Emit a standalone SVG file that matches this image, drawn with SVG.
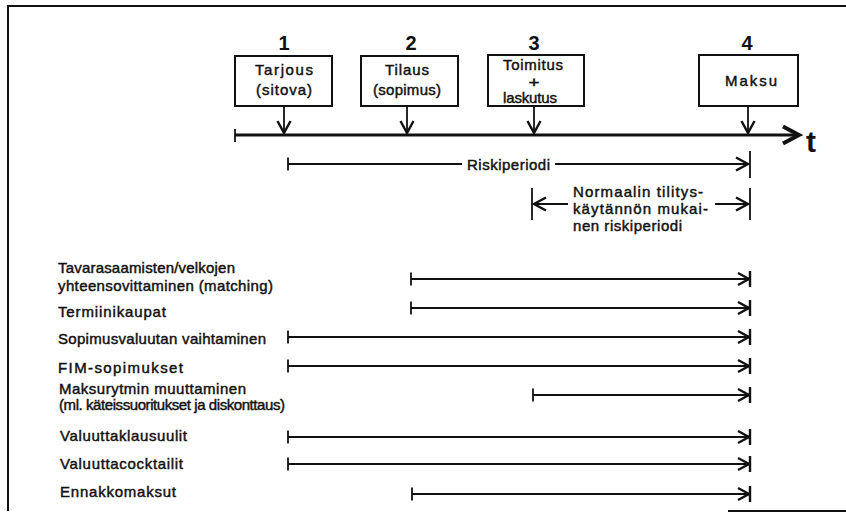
<svg xmlns="http://www.w3.org/2000/svg" width="846" height="527" viewBox="0 0 846 527">
  <style>
    text { font-family: "Liberation Sans", Arial, Helvetica, sans-serif; fill: #111; }
    .lbl { font-size: 15px; stroke: #111; stroke-width: 0.45; }
    .box-t { font-size: 15px; stroke: #111; stroke-width: 0.45; text-anchor: middle; }
    .num { font-size: 20px; font-weight: bold; text-anchor: middle; }
    .ln { stroke: #111; stroke-width: 1.8; fill: none; }
    .box { fill: #fff; stroke: #111; stroke-width: 2; }
    .frame { stroke: #111; stroke-width: 2; fill: none; }
  </style>
  <defs>
    <!-- open chevron with a closing bar at the end of a period -->
    <marker id="endBar" markerUnits="userSpaceOnUse" markerWidth="20" markerHeight="20" orient="auto" overflow="visible">
      <path d="M-11,-6 L0,0 L-11,6 M1,-8 L1,8" stroke="#111" stroke-width="2.4" fill="none"/>
    </marker>
    <!-- open chevron only -->
    <marker id="chev" markerUnits="userSpaceOnUse" markerWidth="20" markerHeight="20" orient="auto" overflow="visible">
      <path d="M-12,-6.5 L0,0 L-12,6.5" stroke="#111" stroke-width="2.4" fill="none"/>
    </marker>
    <!-- small tick at the start of a period -->
    <marker id="startTick" markerUnits="userSpaceOnUse" markerWidth="10" markerHeight="20" orient="auto" overflow="visible">
      <path d="M0,-6.5 L0,6.5" stroke="#111" stroke-width="1.8" fill="none"/>
    </marker>
  </defs>

  <rect width="846" height="527" fill="#fff"/>

  <!-- outer frame (open at the right) -->
  <path class="frame" d="M846,6 L8,6 L8,511"/>
  <path class="frame" d="M728,511 L846,511"/>

  <!-- time axis -->
  <g id="time-axis">
    <line x1="235" y1="135" x2="797" y2="135" stroke="#111" stroke-width="3"/>
    <line x1="235" y1="129" x2="235" y2="142" stroke="#111" stroke-width="1.8"/>
    <path d="M783,126.5 L799,135 L783,143.5" stroke="#111" stroke-width="4" fill="none"/>
    <text x="806" y="152" font-size="30" font-weight="bold">t</text>
  </g>

  <!-- events -->
  <g id="event-1">
    <text class="num" x="284" y="50">1</text>
    <rect class="box" x="235" y="56" width="97" height="50"/>
    <text class="box-t" x="284" y="75" textLength="58">Tarjous</text>
    <text class="box-t" x="284" y="95" textLength="56">(sitova)</text>
  </g>
  <g id="event-2">
    <text class="num" x="411" y="50">2</text>
    <rect class="box" x="361" y="56" width="97" height="50"/>
    <text class="box-t" x="407" y="75" textLength="44">Tilaus</text>
    <text class="box-t" x="407" y="95" textLength="68">(sopimus)</text>
  </g>
  <g id="event-3">
    <text class="num" x="534" y="50">3</text>
    <rect class="box" x="488" y="55" width="96" height="51"/>
    <text class="box-t" x="533" y="70" textLength="60">Toimitus</text>
    <text class="box-t" x="534" y="86.5" font-size="12" stroke-width="0.3" textLength="11" lengthAdjust="spacingAndGlyphs">+</text>
    <text class="box-t" x="530" y="103" textLength="54">laskutus</text>
  </g>
  <g id="event-4">
    <text class="num" x="747" y="50">4</text>
    <rect class="box" x="699" y="55" width="99" height="51"/>
    <text class="box-t" x="751" y="86" textLength="52">Maksu</text>
  </g>

  <!-- connectors: event arrows and periods -->
  <g id="connectors" class="ln">
    <line x1="284" y1="106" x2="284" y2="133" marker-end="url(#chev)"/>
    <line x1="407" y1="106" x2="407" y2="133" marker-end="url(#chev)"/>
    <line x1="534" y1="106" x2="534" y2="133" marker-end="url(#chev)"/>
    <line x1="748" y1="106" x2="748" y2="133" marker-end="url(#chev)"/>

    <!-- Riskiperiodi -->
    <line x1="288" y1="164" x2="462" y2="164" marker-start="url(#startTick)"/>
    <line x1="555" y1="164" x2="748" y2="164" marker-end="url(#chev)"/>
    <line x1="750" y1="151" x2="750" y2="178"/>

    <!-- normal settlement period -->
    <line x1="532" y1="188" x2="532" y2="220"/>
    <line x1="568" y1="204" x2="534" y2="204" marker-end="url(#chev)"/>
    <line x1="715" y1="204" x2="748" y2="204" marker-end="url(#chev)"/>
    <line x1="750" y1="188" x2="750" y2="220"/>

    <!-- hedging methods -->
    <line x1="411" y1="279" x2="749" y2="279" marker-start="url(#startTick)" marker-end="url(#endBar)"/>
    <line x1="411" y1="308" x2="749" y2="308" marker-start="url(#startTick)" marker-end="url(#endBar)"/>
    <line x1="288" y1="337" x2="749" y2="337" marker-start="url(#startTick)" marker-end="url(#endBar)"/>
    <line x1="288" y1="366" x2="749" y2="366" marker-start="url(#startTick)" marker-end="url(#endBar)"/>
    <line x1="533" y1="395" x2="749" y2="395" marker-start="url(#startTick)" marker-end="url(#endBar)"/>
    <line x1="288" y1="437" x2="749" y2="437" marker-start="url(#startTick)" marker-end="url(#endBar)"/>
    <line x1="288" y1="464" x2="749" y2="464" marker-start="url(#startTick)" marker-end="url(#endBar)"/>
    <line x1="412" y1="494" x2="749" y2="494" marker-start="url(#startTick)" marker-end="url(#endBar)"/>
  </g>

  <!-- period labels -->
  <g id="period-labels">
    <text class="lbl" x="467" y="170" textLength="83">Riskiperiodi</text>
    <text class="lbl" x="573" y="197" textLength="130">Normaalin tilitys-</text>
    <text class="lbl" x="573" y="214" textLength="135">käytännön mukai-</text>
    <text class="lbl" x="573" y="231" textLength="109">nen riskiperiodi</text>
  </g>

  <!-- method labels -->
  <g id="method-labels">
    <text class="lbl" x="58" y="273" textLength="177">Tavarasaamisten/velkojen</text>
    <text class="lbl" x="58" y="291" textLength="215">yhteensovittaminen (matching)</text>
    <text class="lbl" x="58" y="317" textLength="108">Termiinikaupat</text>
    <text class="lbl" x="58" y="344" textLength="208">Sopimusvaluutan vaihtaminen</text>
    <text class="lbl" x="58" y="373" textLength="125">FIM-sopimukset</text>
    <text class="lbl" x="59" y="394" textLength="187">Maksurytmin muuttaminen</text>
    <text class="lbl" x="59" y="410" textLength="226">(ml. käteissuoritukset ja diskonttaus)</text>
    <text class="lbl" x="60" y="441" textLength="127">Valuuttaklausuulit</text>
    <text class="lbl" x="60" y="469" textLength="123">Valuuttacocktailit</text>
    <text class="lbl" x="60" y="497" textLength="116">Ennakkomaksut</text>
  </g>
</svg>
